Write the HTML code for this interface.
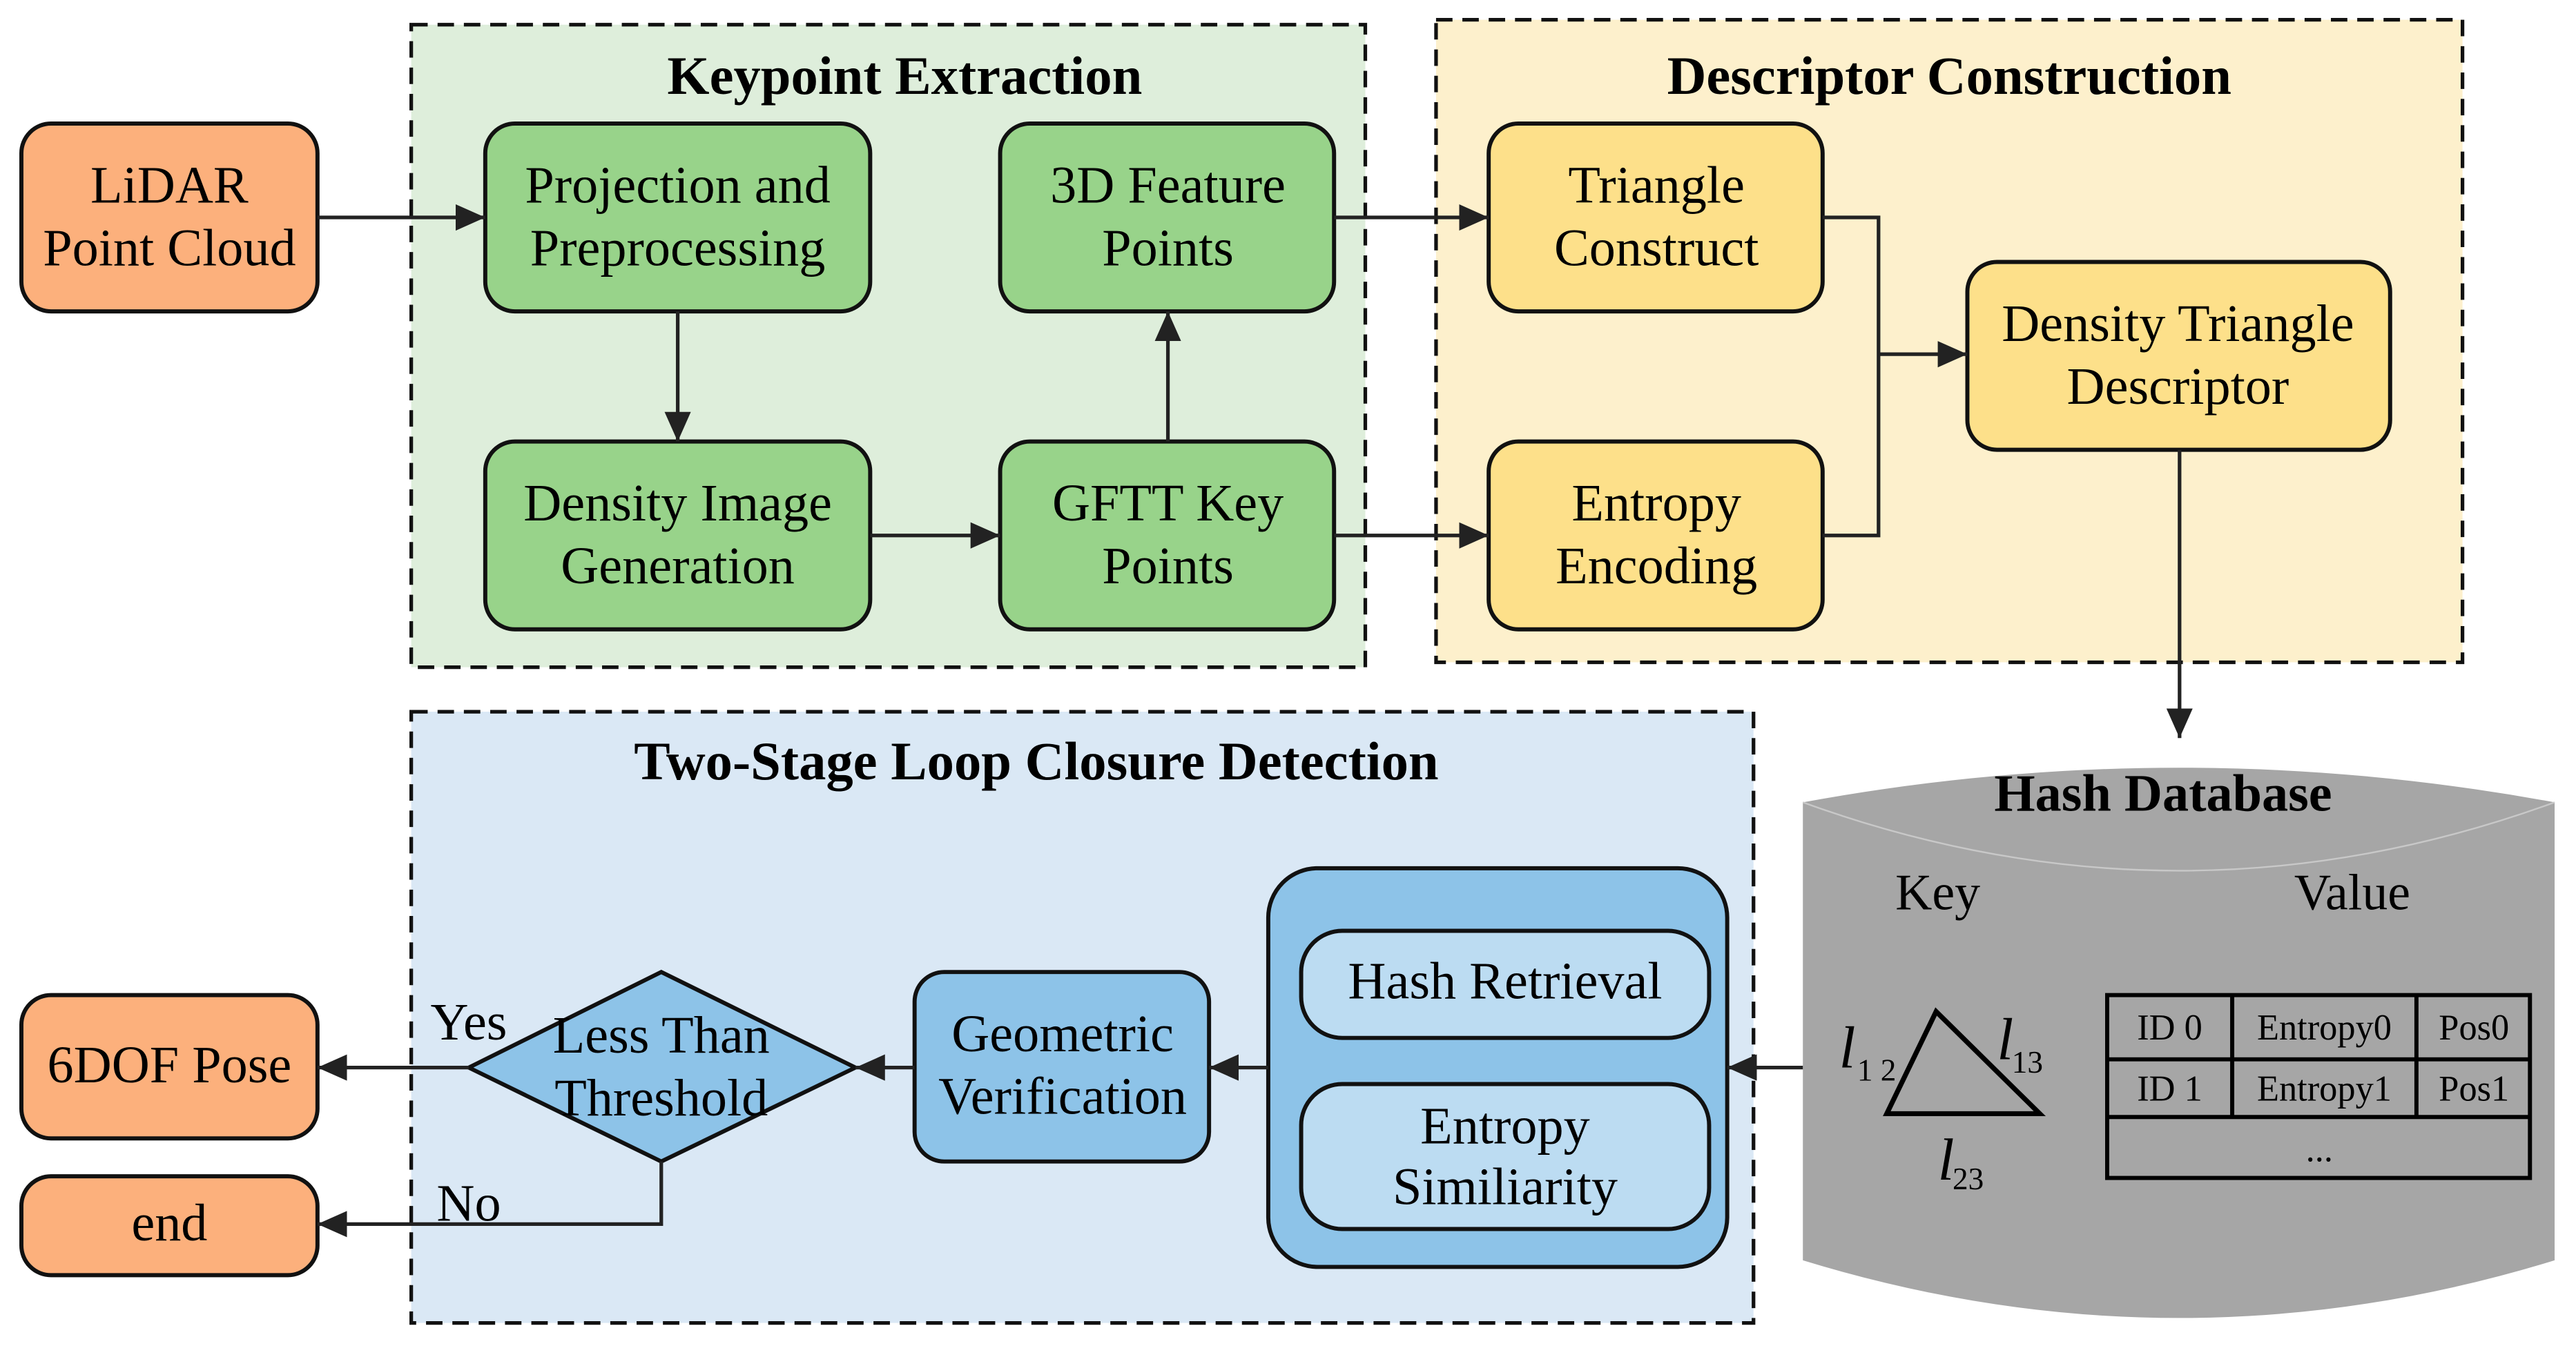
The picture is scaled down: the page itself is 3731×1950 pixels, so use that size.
<!DOCTYPE html>
<html><head><meta charset="utf-8"><style>
html,body{margin:0;padding:0;background:#fff;}
svg{display:block;}
text{font-family:"Liberation Serif",serif;fill:#000;}
</style></head><body>
<svg width="3731" height="1950" viewBox="0 0 1566 817" preserveAspectRatio="none" xmlns="http://www.w3.org/2000/svg">
<defs>
<marker id="a" markerWidth="18" markerHeight="16" refX="18" refY="8" orient="auto" markerUnits="userSpaceOnUse">
<path d="M0,0 L18,8 L0,16 Z" fill="#222"/>
</marker>
</defs>
<rect x="250" y="15" width="580" height="390" fill="#deeedb" stroke="#111" stroke-width="2.2" stroke-dasharray="10,6"/>
<rect x="873" y="12" width="624" height="390" fill="#fdf0cc" stroke="#111" stroke-width="2.2" stroke-dasharray="10,6"/>
<rect x="250" y="432" width="816" height="371" fill="#dae8f5" stroke="#111" stroke-width="2.2" stroke-dasharray="10,6"/>
<g font-weight="bold" font-size="33" text-anchor="middle">
<text x="550" y="57">Keypoint Extraction</text>
<text x="1185" y="57">Descriptor Construction</text>
<text x="630" y="473">Two-Stage Loop Closure Detection</text>
</g>
<path d="M1096,487 Q1325,445 1553,487 L1553,765 Q1325,835 1096,765 Z" fill="#a6a6a6"/>
<path d="M1096,487 Q1325,570 1553,487" fill="none" stroke="#c8c8c8" stroke-width="1"/>
<text x="1315" y="492" font-weight="bold" font-size="32" text-anchor="middle">Hash Database</text>
<g font-size="31" text-anchor="middle"><text x="1178" y="552">Key</text><text x="1430" y="552">Value</text></g>
<path d="M1147,676 L1177,614 L1240,676 Z" fill="none" stroke="#000" stroke-width="3"/>
<g font-style="italic" font-size="36"><text x="1118" y="648">l</text><text x="1214" y="643">l</text><text x="1178" y="716">l</text></g>
<g font-size="19"><text x="1129" y="656">1 2</text><text x="1223" y="651">13</text><text x="1187" y="722">23</text></g>
<g fill="none" stroke="#000" stroke-width="2.5">
<rect x="1281" y="604" width="257" height="111"/>
<line x1="1281" y1="643" x2="1538" y2="643"/><line x1="1281" y1="678" x2="1538" y2="678"/>
<line x1="1357" y1="604" x2="1357" y2="678"/><line x1="1469" y1="604" x2="1469" y2="678"/>
</g>
<g font-size="22" text-anchor="middle">
<text x="1319" y="631">ID 0</text><text x="1413" y="631">Entropy0</text><text x="1504" y="631">Pos0</text>
<text x="1319" y="668">ID 1</text><text x="1413" y="668">Entropy1</text><text x="1504" y="668">Pos1</text>
<text x="1410" y="705">...</text>
</g>
<g stroke="#111" stroke-width="2.5">
<rect x="13" y="75" width="180" height="114" rx="18" fill="#fcb07c"/>
<rect x="295" y="75" width="234" height="114" rx="18" fill="#98d38a"/>
<rect x="608" y="75" width="203" height="114" rx="18" fill="#98d38a"/>
<rect x="295" y="268" width="234" height="114" rx="18" fill="#98d38a"/>
<rect x="608" y="268" width="203" height="114" rx="18" fill="#98d38a"/>
<rect x="905" y="75" width="203" height="114" rx="18" fill="#fde08a"/>
<rect x="905" y="268" width="203" height="114" rx="18" fill="#fde08a"/>
<rect x="1196" y="159" width="257" height="114" rx="18" fill="#fde08a"/>
<rect x="771" y="527" width="279" height="242" rx="30" fill="#8dc3e8"/>
<rect x="791" y="565" width="248" height="65" rx="25" fill="#bcdcf2"/>
<rect x="791" y="658" width="248" height="88" rx="25" fill="#bcdcf2"/>
<rect x="556" y="590" width="179" height="115" rx="18" fill="#8dc3e8"/>
<path d="M285,648 L402,590 L520,648 L402,705 Z" fill="#8dc3e8"/>
<rect x="13" y="604" width="180" height="87" rx="18" fill="#fcb07c"/>
<rect x="13" y="714" width="180" height="60" rx="18" fill="#fcb07c"/>
</g>
<g font-size="32" text-anchor="middle">
<text x="103" y="123">LiDAR</text><text x="103" y="161">Point Cloud</text>
<text x="412" y="123">Projection and</text><text x="412" y="161">Preprocessing</text>
<text x="710" y="123">3D Feature</text><text x="710" y="161">Points</text>
<text x="412" y="316">Density Image</text><text x="412" y="354">Generation</text>
<text x="710" y="316">GFTT Key</text><text x="710" y="354">Points</text>
<text x="1007" y="123">Triangle</text><text x="1007" y="161">Construct</text>
<text x="1007" y="316">Entropy</text><text x="1007" y="354">Encoding</text>
<text x="1324" y="207">Density Triangle</text><text x="1324" y="245">Descriptor</text>
<text x="915" y="606">Hash Retrieval</text>
<text x="915" y="694">Entropy</text><text x="915" y="731">Similiarity</text>
<text x="646" y="638">Geometric</text><text x="646" y="676">Verification</text>
<text x="402" y="639">Less Than</text><text x="402" y="677">Threshold</text>
<text x="103" y="657">6DOF Pose</text>
<text x="103" y="753">end</text>
<text x="285" y="631">Yes</text><text x="285" y="741">No</text>
</g>
<g stroke="#222" stroke-width="2.2" fill="none">
<line x1="193" y1="132" x2="295" y2="132" marker-end="url(#a)"/>
<line x1="412" y1="189" x2="412" y2="268" marker-end="url(#a)"/>
<line x1="529" y1="325" x2="608" y2="325" marker-end="url(#a)"/>
<line x1="710" y1="268" x2="710" y2="189" marker-end="url(#a)"/>
<line x1="811" y1="132" x2="905" y2="132" marker-end="url(#a)"/>
<line x1="811" y1="325" x2="905" y2="325" marker-end="url(#a)"/>
<polyline points="1108,132 1142,132 1142,325 1108,325"/>
<line x1="1142" y1="215" x2="1196" y2="215" marker-end="url(#a)"/>
<line x1="1325" y1="273" x2="1325" y2="448" marker-end="url(#a)"/>
<line x1="1096" y1="648" x2="1050" y2="648" marker-end="url(#a)"/>
<line x1="771" y1="648" x2="735" y2="648" marker-end="url(#a)"/>
<line x1="556" y1="648" x2="520" y2="648" marker-end="url(#a)"/>
<line x1="285" y1="648" x2="193" y2="648" marker-end="url(#a)"/>
<polyline points="402,705 402,743 193,743" marker-end="url(#a)"/>
</g>
</svg>
</body></html>
